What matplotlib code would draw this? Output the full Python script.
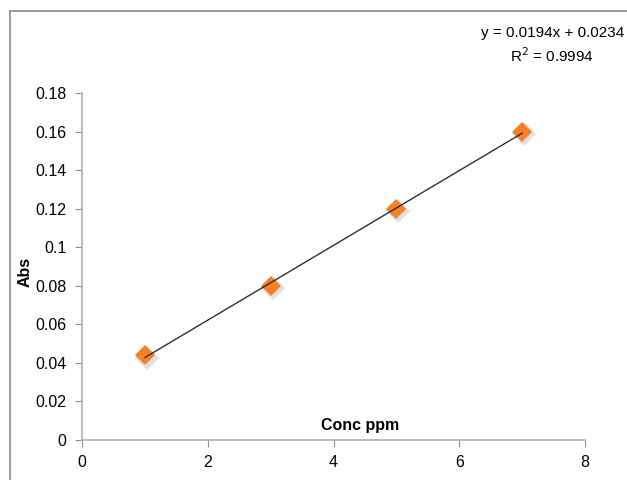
import matplotlib.pyplot as plt
from matplotlib.lines import Line2D
import numpy as np

plt.rcParams['font.family'] = ['Liberation Sans', 'DejaVu Sans']

conc = [1, 3, 5, 7]
absorb = [0.044, 0.08, 0.12, 0.16]
x_ticks = [0, 2, 4, 6, 8]
y_ticks = [0, 0.02, 0.04, 0.06, 0.08, 0.1, 0.12, 0.14, 0.16, 0.18]
y_labels = ['0', '0.02', '0.04', '0.06', '0.08', '0.1', '0.12', '0.14', '0.16', '0.18']

fig = plt.figure(figsize=(6.27, 4.8), dpi=100)
ax = fig.add_axes([0.1308, 0.0833, 0.8022, 0.7227])

# trendline
m, b = np.polyfit(conc, absorb, 1)
xs = np.array([conc[0], conc[-1]])
ax.plot(xs, m * xs + b, color='#303030', lw=1, zorder=3)

# markers with a soft shadow
ax.plot(np.array(conc) + 0.03, np.array(absorb) - 0.0012, 'D', color='#999999',
        alpha=0.3, markersize=12, markeredgewidth=0, zorder=1)
ax.plot(conc, absorb, 'D', color='#F58025', markersize=10, markeredgewidth=0, zorder=2)

ax.set_xlim(0, 8)
ax.set_ylim(0, 0.18)
ax.set_xticks(x_ticks)
ax.set_yticks(y_ticks)
ax.set_yticklabels(y_labels)
for s in ['top', 'right']:
    ax.spines[s].set_visible(False)
for s in ['left', 'bottom']:
    ax.spines[s].set_color('#b0b0b0')
    ax.spines[s].set_linewidth(1.2)
ax.tick_params(direction='out', length=5, color='#909090', labelsize=11.5, pad=6)

fig.text(0.575, 0.113, 'Conc ppm', fontsize=11.5, fontweight='bold', ha='center', va='center')
fig.text(0.04, 0.433, 'Abs', fontsize=11.5, fontweight='bold', rotation=90,
         ha='center', va='center')

fig.text(0.995, 0.931, 'y = 0.0194x + 0.0234', fontsize=11, ha='right', va='center')
fig.text(0.948, 0.885, 'R$^2$ = 0.9994', fontsize=11, ha='right', va='center')

# chart area border (left and top visible)
fig.add_artist(Line2D([0.016, 0.016], [0, 0.977], color='#8c8c8c', lw=1.2))
fig.add_artist(Line2D([0.016, 1.0], [0.977, 0.977], color='#8c8c8c', lw=1.2))

fig.savefig('out.png', dpi=100)
